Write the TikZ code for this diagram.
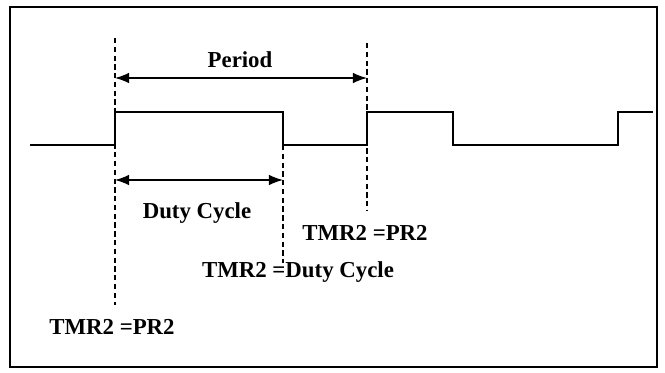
\documentclass[tikz,border=0pt]{standalone}
\usepackage{fontspec}
\setmainfont{Liberation Serif}
\usetikzlibrary{arrows.meta}

\begin{document}
\begin{tikzpicture}[x=0.02cm,y=-0.02cm,
  every node/.style={font=\bfseries\fontsize{13}{15}\selectfont,inner sep=0pt},
  marker/.style={densely dashed,line width=0.6pt},
  span/.style={{Latex[length=8pt,width=6pt]}-{Latex[length=8pt,width=6pt]},line width=0.7pt},
  wave/.style={line width=0.8pt}]
\useasboundingbox (0,0) rectangle (665,372);
\draw[line width=0.8pt] (10,7) rectangle (657,367);
% marker lines
\coordinate (m1t) at (115,38);  \coordinate (m1b) at (115,305);
\coordinate (m2t) at (367,43);  \coordinate (m2b) at (367,210);
\coordinate (m3t) at (283,145); \coordinate (m3b) at (283,263);
\draw[marker] (m1t) -- (m1b);
\draw[marker] (m2t) -- (m2b);
\draw[marker] (m3t) -- (m3b);
% waveform
\coordinate (w0) at (30,145);
\coordinate (w1) at (653,112);
\draw[wave] (w0) -- (115,145) -- (115,112) -- (283,112) -- (283,145)
  -- (367,145) -- (367,112) -- (453,112) -- (453,145) -- (618,145)
  -- (618,112) -- (w1);
% spans
\coordinate (p1) at (115,78);  \coordinate (p2) at (367,78);
\coordinate (d1) at (115,180); \coordinate (d2) at (283,180);
\draw[span] (p1) -- (p2);
\draw[span] (d1) -- (d2);
% labels
\node (period) at (240,60) {Period};
\node (duty) at (197,213) {Duty Cycle};
\node (pr2b) at (365,233) {TMR2 =PR2};
\node (dutyeq) at (298,272) {TMR2 =Duty Cycle};
\node (pr2a) at (112,327) {TMR2 =PR2};
\end{tikzpicture}
\end{document}
